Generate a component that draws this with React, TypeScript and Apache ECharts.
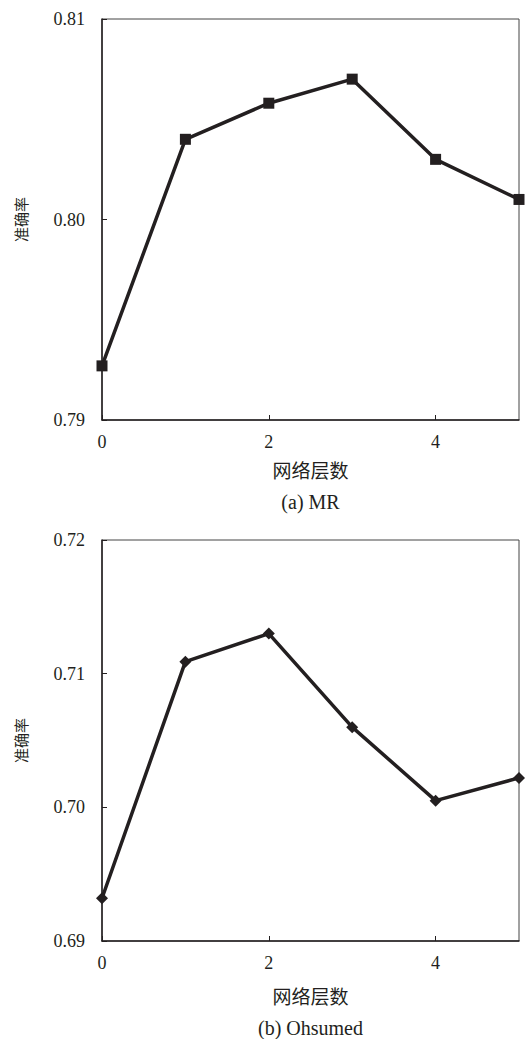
import React, { useEffect, useRef } from "react";
import * as echarts from "echarts";

const layersMR = [0, 1, 2, 3, 4, 5];
const accMR = [0.7927, 0.804, 0.8058, 0.807, 0.803, 0.801];
const layersOh = [0, 1, 2, 3, 4, 5];
const accOh = [0.6932, 0.7109, 0.713, 0.706, 0.7005, 0.7022];
const xName = "网络层数";
const yName = "准确率";
const captions = ["(a) MR", "(b) Ohsumed"];

const FONT = "'Liberation Serif', 'Times New Roman', 'Noto Sans CJK SC', serif";
const INK = "#231f20";

export default function App() {
  const ref = useRef<HTMLDivElement>(null);
  useEffect(() => {
    if (!ref.current) return;
    const chart = echarts.init(ref.current, null, { renderer: "svg" });
    const grids = [
      { left: 102, top: 19, width: 417, height: 401 },
      { left: 102, top: 540, width: 417, height: 401 },
    ];
    const nameGaps = [42, 47];
    const capOffsets = [82, 87];
    const mkX = (i: number) => ({
      type: "value",
      gridIndex: i,
      min: 0,
      max: 5,
      interval: 2,
      name: xName,
      nameLocation: "middle",
      nameGap: nameGaps[i],
      nameTextStyle: { fontFamily: FONT, fontSize: 19, color: INK },
      axisLine: { show: true, onZero: false, lineStyle: { color: INK, width: 1.5 } },
      axisTick: { show: true, inside: true, length: 5, lineStyle: { color: INK, width: 1 } },
      axisLabel: { fontFamily: FONT, fontSize: 18, color: INK, margin: 13, showMaxLabel: false },
      splitLine: { show: false },
    });
    const mkY = (i: number, min: number, max: number) => ({
      type: "value",
      gridIndex: i,
      min,
      max,
      interval: 0.01,
      name: yName,
      nameLocation: "middle",
      nameGap: 73,
      nameRotate: 90,
      nameTextStyle: { fontFamily: FONT, fontSize: 15, color: INK },
      axisLine: { show: true, lineStyle: { color: INK, width: 1.5 } },
      axisTick: { show: true, inside: true, length: 5, lineStyle: { color: INK, width: 1 } },
      axisLabel: {
        fontFamily: FONT,
        fontSize: 18,
        color: INK,
        margin: 17,
        formatter: (v: number) => v.toFixed(2),
      },
      splitLine: { show: false },
    });
    chart.setOption({
      animation: false,
      grid: grids.map((g) => ({ ...g, show: true, borderColor: "#444", borderWidth: 1, backgroundColor: "transparent" })),
      xAxis: [mkX(0), mkX(1)],
      yAxis: [mkY(0, 0.79, 0.81), mkY(1, 0.69, 0.72)],
      series: [
        {
          type: "line",
          xAxisIndex: 0,
          yAxisIndex: 0,
          data: layersMR.map((x, i) => [x, accMR[i]]),
          symbol: "rect",
          symbolSize: 11,
          lineStyle: { color: INK, width: 3.5 },
          itemStyle: { color: INK },
          clip: false,
        },
        {
          type: "line",
          xAxisIndex: 1,
          yAxisIndex: 1,
          data: layersOh.map((x, i) => [x, accOh[i]]),
          symbol: "diamond",
          symbolSize: 12,
          lineStyle: { color: INK, width: 3.5 },
          itemStyle: { color: INK },
          clip: false,
        },
      ],
      graphic: captions.map((t, i) => ({
        type: "text",
        x: grids[i].left + grids[i].width / 2,
        y: grids[i].top + grids[i].height + capOffsets[i],
        style: {
          text: t,
          font: `20px ${FONT}`,
          fill: INK,
          textAlign: "center",
          textVerticalAlign: "middle",
        },
      })),
    });
    return () => chart.dispose();
  }, []);
  return (
    <div
      ref={ref}
      style={{ position: "absolute", left: 0, top: 0, width: 529, height: 1039, background: "#fff" }}
    />
  );
}
